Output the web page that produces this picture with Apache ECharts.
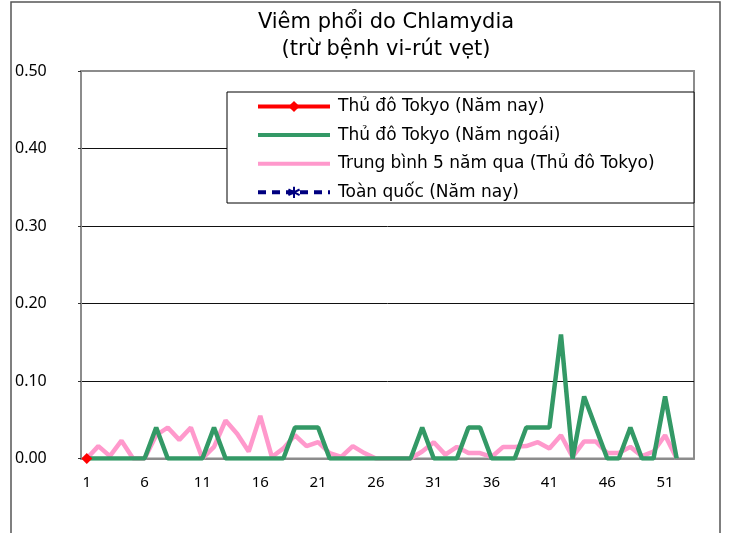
<!DOCTYPE html>
<html>
<head>
<meta charset="utf-8">
<script src="https://cdn.jsdelivr.net/npm/echarts@6/dist/echarts.min.js"></script>
<style>
  html, body { margin: 0; padding: 0; background: #fff; }
  #chart { width: 729px; height: 533px; }
</style>
</head>
<body>
<div id="chart"></div>
<script>
// tuần 1..53
const weeks = Array.from({ length: 53 }, (_, i) => String(i + 1))

// Thủ đô Tokyo (Năm nay) - chỉ có tuần 1
const tokyoThisYear = [0]

// Thủ đô Tokyo (Năm ngoái)
const tokyoLastYear = [
  0, 0, 0, 0, 0, 0, 0.04, 0, 0, 0,
  0, 0.04, 0, 0, 0, 0, 0, 0, 0.04, 0.04,
  0.04, 0, 0, 0, 0, 0, 0, 0, 0, 0.04,
  0, 0, 0, 0.04, 0.04, 0, 0, 0, 0.04, 0.04,
  0.04, 0.16, 0, 0.08, 0.04, 0, 0, 0.04, 0, 0,
  0.08, 0
]

// Trung bình 5 năm qua (Thủ đô Tokyo)
const tokyoAvg5 = [
  0, 0.016, 0.003, 0.023, 0, 0, 0.03, 0.04, 0.024, 0.04,
  0, 0.015, 0.049, 0.032, 0.009, 0.055, 0.002, 0.013, 0.03, 0.016,
  0.021, 0.007, 0.002, 0.016, 0.007, 0, 0, 0, 0, 0.009,
  0.021, 0.005, 0.015, 0.007, 0.007, 0.002, 0.015, 0.015, 0.016, 0.021,
  0.013, 0.03, 0.002, 0.022, 0.022, 0.007, 0.007, 0.015, 0.003, 0.009,
  0.03, 0
]

// Toàn quốc (Năm nay) - chưa có số liệu
const nationalThisYear = []

const names = [
  'Thủ đô Tokyo (Năm nay)',
  'Thủ đô Tokyo (Năm ngoái)',
  'Trung bình 5 năm qua (Thủ đô Tokyo)',
  'Toàn quốc (Năm nay)'
]

const font = '"Noto Sans", "DejaVu Sans", sans-serif'
const wideFont = '"DejaVu Sans", "Noto Sans", sans-serif'
const asterisk = 'path://M5,0 L5,10 M0.7,2.5 L9.3,7.5 M0.7,7.5 L9.3,2.5'

const chart = echarts.init(document.getElementById('chart'))

chart.setOption({
  animation: false,
  backgroundColor: '#fff',
  title: {
    text: 'Viêm phổi do Chlamydia\n(trừ bệnh vi-rút vẹt)',
    left: 381,
    top: 4,
    textAlign: 'center',
    textStyle: {
      fontFamily: wideFont,
      fontSize: 21,
      fontWeight: 'normal',
      color: '#000',
      lineHeight: 27
    }
  },
  graphic: [
    {
      type: 'rect',
      shape: { x: 11, y: 2, width: 709, height: 560 },
      style: { fill: null, stroke: '#555', lineWidth: 1.5 },
      silent: true
    },
    {
      type: 'rect',
      shape: { x: 227, y: 92, width: 467, height: 111 },
      style: { fill: '#fff', stroke: '#000', lineWidth: 1 },
      z: 10,
      silent: true
    }
  ],
  legend: {
    data: [
      { name: names[0], lineStyle: { width: 4 } },
      { name: names[1], lineStyle: { width: 4 }, itemStyle: { opacity: 0 } },
      { name: names[2], lineStyle: { width: 4 }, itemStyle: { opacity: 0 } },
      { name: names[3], lineStyle: { width: 4, type: [8, 6] } }
    ],
    orient: 'vertical',
    left: 227,
    top: 92,
    z: 11,
    padding: [6, 10, 6, 29],
    itemWidth: 72,
    itemHeight: 14,
    itemGap: 11.6,
    textStyle: {
      fontFamily: wideFont,
      fontSize: 17,
      color: '#000',
      padding: [0, 0, 0, 3]
    }
  },
  grid: {
    left: 81,
    right: 35,
    top: 71,
    bottom: 74.5,
    show: true,
    borderColor: '#8c8c8c',
    borderWidth: 2
  },
  xAxis: {
    type: 'category',
    data: weeks,
    boundaryGap: true,
    axisLine: { lineStyle: { color: '#8c8c8c', width: 2 } },
    axisTick: { interval: 4, inside: true, length: 5, lineStyle: { color: '#333' } },
    axisLabel: {
      interval: 4,
      margin: 17,
      fontFamily: font,
      fontSize: 15,
      color: '#000'
    }
  },
  yAxis: {
    type: 'value',
    min: 0,
    max: 0.5,
    interval: 0.1,
    axisLine: { show: true, lineStyle: { color: '#8c8c8c', width: 2 } },
    axisTick: { show: true, length: 3, lineStyle: { color: '#333' } },
    splitLine: { showMaxLine: false, showMinLine: false, lineStyle: { color: '#111', width: 1 } },
    axisLabel: {
      align: 'left',
      margin: 66,
      fontFamily: font,
      fontSize: 16,
      color: '#000',
      formatter: (v) => v.toFixed(2)
    }
  },
  series: [
    {
      name: names[2],
      type: 'line',
      data: tokyoAvg5,
      symbol: 'none',
      lineStyle: { color: '#ff99cc', width: 4.5 },
      itemStyle: { color: '#ff99cc' },
      z: 2
    },
    {
      name: names[1],
      type: 'line',
      data: tokyoLastYear,
      symbol: 'none',
      lineStyle: { color: '#339966', width: 4.5 },
      itemStyle: { color: '#339966' },
      z: 3
    },
    {
      name: names[3],
      type: 'line',
      data: nationalThisYear,
      symbol: asterisk,
      symbolSize: 10,
      lineStyle: { color: '#000080', width: 4, type: [8, 6] },
      itemStyle: { color: '#000080', borderColor: '#000080', borderWidth: 2 },
      z: 4
    },
    {
      name: names[0],
      type: 'line',
      data: tokyoThisYear,
      symbol: 'diamond',
      symbolSize: 11,
      showAllSymbol: true,
      lineStyle: { color: '#ff0000', width: 4 },
      itemStyle: { color: '#ff0000' },
      z: 5
    }
  ]
})

window.addEventListener('resize', () => chart.resize())
</script>
</body>
</html>
